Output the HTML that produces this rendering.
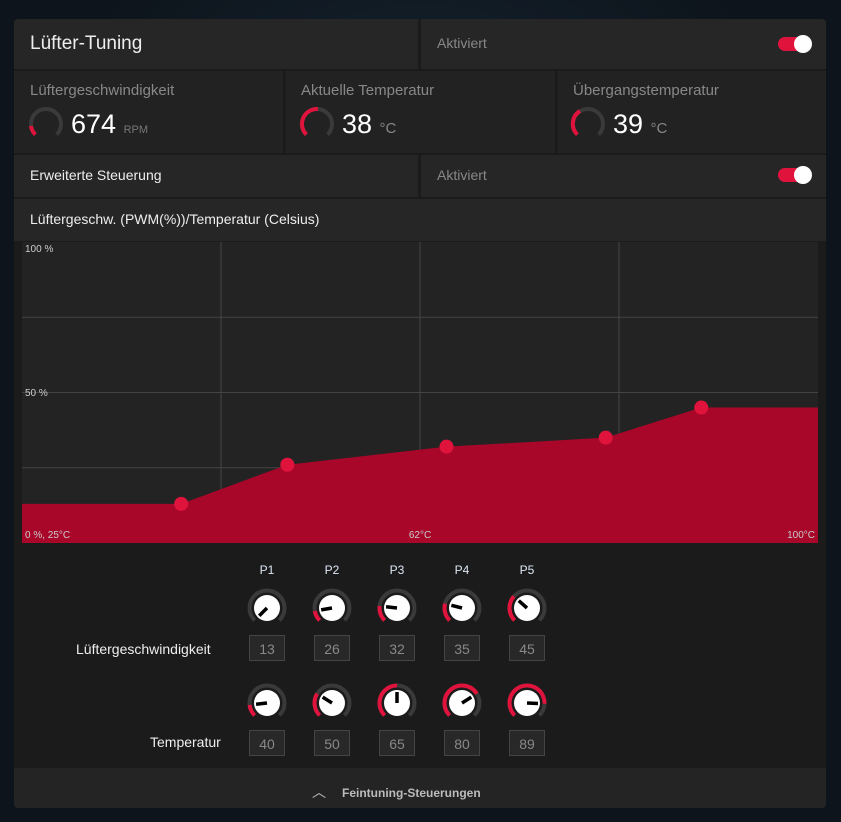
<!DOCTYPE html>
<html><head><meta charset="utf-8"><style>
body{margin:0;width:841px;height:822px;background:radial-gradient(ellipse at 50% 40%,#1a2a38,#0d141b 70%);font-family:"Liberation Sans",sans-serif;overflow:hidden;position:relative}
.abs{position:absolute}
.panel{left:14px;top:19px;width:812px;height:789px;background:#1b1b1b;border-radius:4px}
.cell{position:absolute;background:#262626}
.t{position:absolute;color:#ddd}
.tog{position:absolute;width:32px;height:14px;border-radius:7px;background:#e0133d}
.tog::after{content:"";position:absolute;right:-2px;top:-2px;width:18px;height:18px;border-radius:50%;background:#fff}
.box{position:absolute;width:36px;height:26px;border:1px solid #444;background:#282828;color:#888;font-size:14px;text-align:center;line-height:26px;box-sizing:border-box}
</style></head><body>
<div class="abs panel"></div>
<div class="cell" style="left:14px;top:19px;width:404px;height:50px;border-radius:4px 0 0 0"></div>
<div class="cell" style="left:421px;top:19px;width:405px;height:50px;border-radius:0 4px 0 0"></div>
<div class="t" style="left:30px;top:33px;font-size:19px;color:#eee">Lüfter-Tuning</div>
<div class="t" style="left:437px;top:35px;font-size:14px;color:#888">Aktiviert</div>
<div class="tog" style="left:778px;top:37px"></div>

<div class="cell" style="left:14px;top:71px;width:269px;height:82px;background:#222"></div>
<div class="cell" style="left:286px;top:71px;width:269px;height:82px;background:#222"></div>
<div class="cell" style="left:558px;top:71px;width:268px;height:82px;background:#222"></div>
<div class="t" style="left:30px;top:82px;font-size:15px;color:#888">Lüftergeschwindigkeit</div>
<div class="t" style="left:301px;top:82px;font-size:15px;color:#888">Aktuelle Temperatur</div>
<div class="t" style="left:573px;top:82px;font-size:15px;color:#888">Übergangstemperatur</div>
<svg class="abs" style="left:0;top:0" width="841" height="822">
<g fill="none" stroke-width="4">
<path d="M35.4,134.6 A15,15 0 1 1 56.6,134.6" stroke="#3a3a3a"/><path d="M35.4,134.6 A15,15 0 0 1 31,126" stroke="#e0133d"/>
<path d="M306.4,134.6 A15,15 0 1 1 327.6,134.6" stroke="#3a3a3a"/><path d="M306.4,134.6 A15,15 0 0 1 318,109" stroke="#e0133d"/>
<path d="M577.4,134.6 A15,15 0 1 1 598.6,134.6" stroke="#3a3a3a"/><path d="M577.4,134.6 A15,15 0 0 1 580,111" stroke="#e0133d"/>
</g></svg>
<div class="t" style="left:71px;top:109px;font-size:27px;color:#fff">674 <span style="font-size:11px;color:#777">RPM</span></div>
<div class="t" style="left:342px;top:109px;font-size:27px;color:#fff">38 <span style="font-size:15px;color:#888">°C</span></div>
<div class="t" style="left:613px;top:109px;font-size:27px;color:#fff">39 <span style="font-size:15px;color:#888">°C</span></div>

<div class="cell" style="left:14px;top:155px;width:404px;height:42px"></div>
<div class="cell" style="left:421px;top:155px;width:405px;height:42px"></div>
<div class="t" style="left:30px;top:167px;font-size:14px;color:#eee">Erweiterte Steuerung</div>
<div class="t" style="left:437px;top:167px;font-size:14px;color:#888">Aktiviert</div>
<div class="tog" style="left:778px;top:168px"></div>
<div class="cell" style="left:14px;top:199px;width:812px;height:42px"></div>
<div class="t" style="left:30px;top:211px;font-size:14px;color:#eee">Lüftergeschw. (PWM(%))/Temperatur (Celsius)</div>

<svg id="chart" class="abs" style="left:0;top:0" width="841" height="822"></svg>

<div class="t" style="left:76px;top:641px;font-size:14px;color:#eee">Lüftergeschwindigkeit</div>
<div class="t" style="left:150px;top:734px;font-size:14px;color:#eee">Temperatur</div>

<div class="cell" style="left:14px;top:768px;width:812px;height:40px;background:#242424;border-radius:0 0 4px 4px"></div>
<div class="t" style="left:312px;top:782px;font-size:12px;color:#bbb;font-weight:bold"><span style="font-weight:normal;font-size:14px;margin-right:16px">︿</span>Feintuning-Steuerungen</div>

<script>
const temps=[40,50,65,80,89];
const speeds=[13,26,32,35,45];
const labels=['P1','P2','P3','P4','P5'];
const NS='http://www.w3.org/2000/svg';
const X0=22,X1=818,Y0=543,Y1=242;
const xs=t=>X0+(t-25)/75*(X1-X0);
const ys=v=>Y0-v/100*(Y0-Y1);
const svg=document.getElementById('chart');
function mk(tag,a,p){const e=document.createElementNS(NS,tag);for(const k in a)e.setAttribute(k,a[k]);(p||svg).appendChild(e);return e;}
mk('rect',{x:X0,y:Y1,width:X1-X0,height:Y0-Y1,fill:'#232323'});
[0.25,0.5,0.75].forEach(f=>{mk('line',{x1:X0+f*(X1-X0),x2:X0+f*(X1-X0),y1:Y1,y2:Y0,stroke:'#444'});mk('line',{x1:X0,x2:X1,y1:Y0-f*(Y0-Y1),y2:Y0-f*(Y0-Y1),stroke:'#444'});});
let pts=[[25,speeds[0]]].concat(temps.map((t,i)=>[t,speeds[i]])).concat([[100,speeds[4]]]);
let d='M'+xs(25)+','+Y0+' '+pts.map(p=>'L'+xs(p[0])+','+ys(p[1])).join(' ')+' L'+X1+','+Y0+'Z';
const area=mk('path',{d:d,fill:'#a8072a'});


temps.forEach((t,i)=>{const c=mk('circle',{cx:xs(t),cy:ys(speeds[i]),r:7,fill:'#e0133d'});

});
[['100 %',25,252],['50 %',25,396],['0 %, 25°C',25,538]].forEach(a=>{const t=mk('text',{x:a[1],y:a[2],fill:'#ccc','font-size':10});t.textContent=a[0];});
let t=mk('text',{x:420,y:538,fill:'#ccc','font-size':10,'text-anchor':'middle'});t.textContent='62°C';
t=mk('text',{x:815,y:538,fill:'#ccc','font-size':10,'text-anchor':'end'});t.textContent='100°C';
const cols=[267,332,397,462,527];
function arcPt(cx,cy,r,f){const a=(225-270*f)*Math.PI/180;return [cx+r*Math.cos(a),cy-r*Math.sin(a)];}
function knob(cx,cy,f,name){
 const g=mk('g',{});
 
 
 const s=arcPt(cx,cy,17.5,0),e=arcPt(cx,cy,17.5,1);
 mk('path',{d:`M${s[0]},${s[1]} A17.5,17.5 0 1 1 ${e[0]},${e[1]}`,fill:'none',stroke:'#3a3a3a','stroke-width':4},g);
 if(f>0.01){const m=arcPt(cx,cy,17.5,f);mk('path',{d:`M${s[0]},${s[1]} A17.5,17.5 0 ${270*f>180?1:0} 1 ${m[0]},${m[1]}`,fill:'none',stroke:'#e0133d','stroke-width':4},g);}
 mk('circle',{cx:cx,cy:cy,r:13,fill:'#fff'},g);
 const p=arcPt(cx,cy,11,f);mk('line',{x1:cx,y1:cy,x2:p[0],y2:p[1],stroke:'#000','stroke-width':3.5},g);
}
cols.forEach((cx,i)=>{
 const h=mk('text',{x:cx,y:574,fill:'#dde8f5','font-size':12,'text-anchor':'middle'});h.textContent=labels[i];
 knob(cx,608,(speeds[i]-13)/100,'speed-knob-'+labels[i].toLowerCase());
 knob(cx,703,(temps[i]-30)/70,'temp-knob-'+labels[i].toLowerCase());
 const b1=document.createElement('div');b1.className='box';b1.style.left=(cx-18)+'px';b1.style.top='635px';b1.textContent=speeds[i];
 
 
 document.body.appendChild(b1);
 const b2=document.createElement('div');b2.className='box';b2.style.left=(cx-18)+'px';b2.style.top='730px';b2.textContent=temps[i];
 
 
 document.body.appendChild(b2);
});
</script>
</body></html>
